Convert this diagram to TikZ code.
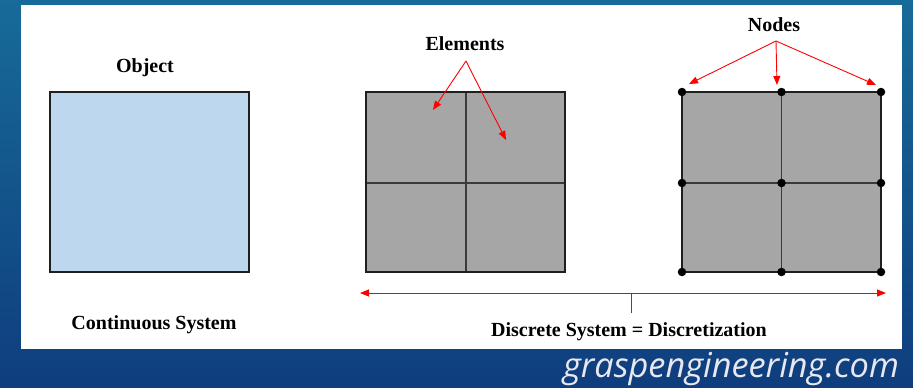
\documentclass[tikz,border=0pt]{standalone}
\usepackage{fontspec}
\setmainfont{Liberation Serif}
\newfontfamily\wmfont{Open Sans}
\usetikzlibrary{arrows.meta}
\definecolor{bgtop}{HTML}{176B98}
\definecolor{bgbot}{HTML}{0F3D7E}
\definecolor{objfill}{HTML}{BDD7EE}
\definecolor{elfill}{HTML}{A6A6A6}
\definecolor{gridln}{HTML}{3A3A3A}
\definecolor{wmcol}{HTML}{E8E8F0}
\tikzset{
  lbl/.style={font=\fontsize{20}{24}\selectfont\bfseries, inner sep=0pt},
  outerbox/.style={draw=black!88, line width=2pt},
  gridline/.style={draw=gridln, line width=1.3pt},
  redarrow/.style={draw=red, line width=0.9pt, -{Triangle[length=9pt,width=7pt]}},
  dblarrow/.style={draw=red, line width=0.9pt, {Triangle[length=9pt,width=7pt]}-{Triangle[length=9pt,width=7pt]}},
  nodedot/.style={circle, fill=black, inner sep=0pt, minimum size=8.5pt}
}
\begin{document}
\begin{tikzpicture}[x=1pt,y=-1pt]
\useasboundingbox (0,0) rectangle (913,388);
% background
\shade[top color=bgtop, bottom color=bgbot] (0,0) rectangle (913,388);
\fill[white] (21,5) rectangle (902,349);

% Continuous object
\draw[outerbox, fill=objfill] (50,92) rectangle (249,272);
\node[lbl] (objlbl) at (145,68) {Object};
\node[lbl] (contlbl) at (154,325) {Continuous System};

% Elements
\fill[elfill] (366,92) rectangle (565,272);
\draw[gridline] (466,92) -- (466,272);
\draw[gridline] (366,183) -- (565,183);
\draw[outerbox] (366,92) rectangle (565,272);
\node[lbl] (ellbl) at (465,44) {Elements};
\coordinate (elapex) at (466,61);
\coordinate (eltipA) at (433,110);
\coordinate (eltipB) at (506,140);
\draw[redarrow] (elapex) -- (eltipA);
\draw[redarrow] (elapex) -- (eltipB);

% Nodes
\fill[elfill] (682,92) rectangle (881,272);
\draw[gridline] (781.5,92) -- (781.5,272);
\draw[gridline] (682,183) -- (881,183);
\draw[outerbox] (682,92) rectangle (881,272);
\foreach \i/\x in {a/682,b/781.5,c/881}{
  \foreach \j/\y in {1/92,2/183,3/272}{
    \node[nodedot] (n\i\j) at (\x,\y) {};
  }
}
\node[lbl] (ndlbl) at (774,25) {Nodes};
\coordinate (ndapex) at (776,41);
\coordinate (ndtipA) at (689,84);
\coordinate (ndtipB) at (777,85);
\coordinate (ndtipC) at (876,85);
\draw[redarrow] (ndapex) -- (ndtipA);
\draw[redarrow] (ndapex) -- (ndtipB);
\draw[redarrow] (ndapex) -- (ndtipC);

% Discrete span
\coordinate (spanL) at (360,293);
\coordinate (spanR) at (886,293);
\coordinate (spanM) at (631,293);
\coordinate (spanT) at (631,313);
\draw[dblarrow] (spanL) -- (spanR);
\draw[draw=red, line width=0.9pt] (spanM) -- (spanT);
\node[lbl] (disclbl) at (629,332) {Discrete System = Discretization};

% watermark
\node[inner sep=0pt, text=wmcol, anchor=center] (wm) at (731,369)
  {\resizebox{336pt}{!}{\wmfont\itshape graspengineering.com}};
\end{tikzpicture}
\end{document}
